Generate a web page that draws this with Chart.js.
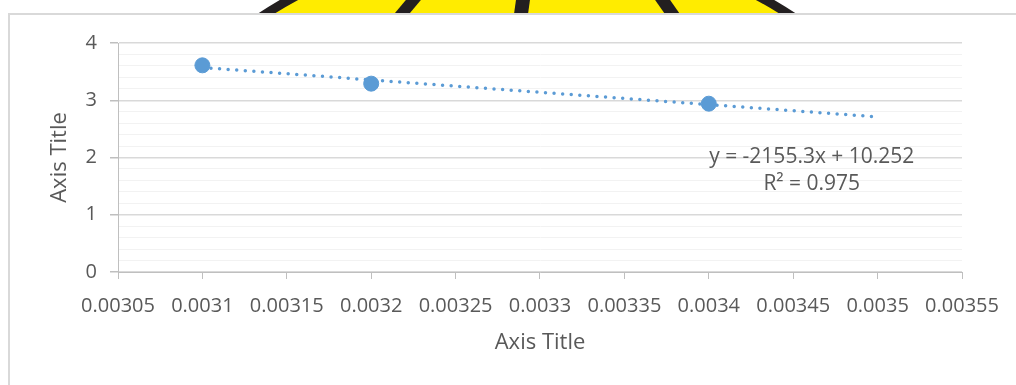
<!DOCTYPE html>
<html>
<head>
<meta charset="utf-8">
<script src="https://cdn.jsdelivr.net/npm/chart.js@4"></script>
<style>
    body { margin: 0; background: #fff; width: 1016px; height: 385px; overflow: hidden; position: relative; }
    #logo { position: absolute; left: 0; top: 0; width: 1016px; height: 14px; overflow: hidden; }
    #logo .disc { position: absolute; left: 38px; top: -67px; width: 978px; height: 978px; border-radius: 50%;
        background: #ffec00; border: 9px solid #231f20; box-sizing: border-box; }
    #logo .stroke { position: absolute; top: -2px; height: 18px; background: #231f20; }
    #frame { position: absolute; left: 8px; top: 13px; width: 1100px; height: 500px;
        border-left: 2px solid #d9d9d9; border-top: 2px solid #d9d9d9; background: #fff; }
    #wrap { position: absolute; left: 0; top: 0; width: 1016px; height: 385px; }
</style>
</head>
<body>
<div id="logo">
    <div class="disc"></div>
    <div class="stroke" style="left:400px;width:15px;transform:skewX(-40deg)"></div>
    <div class="stroke" style="left:515px;width:14px;transform:skewX(-8deg)"></div>
    <div class="stroke" style="left:660px;width:15px;transform:skewX(35deg)"></div>
</div>
<div id="frame"></div>
<div id="wrap"><canvas id="chart" width="1016" height="385"></canvas></div>
<script>
const xValues = [0.0031, 0.0032, 0.0034];
const yValues = [3.61, 3.29, 2.94];
const trendX = [0.0031, 0.0035];
const trendY = [3.57, 2.71];
const xTicks = [0.00305, 0.0031, 0.00315, 0.0032, 0.00325, 0.0033, 0.00335, 0.0034, 0.00345, 0.0035, 0.00355];
const yMajorTicks = [0, 1, 2, 3, 4];
const equationLines = ['y = -2155.3x + 10.252', 'R² = 0.975'];

const textColor = '#595959';
const fontFamily = "'Open Sans', sans-serif";

function isMajor(v) {
    return yMajorTicks.some(t => Math.abs(t - v) < 1e-9);
}

// trendline label, placed in data coordinates
const equationLabel = {
    id: 'equationLabel',
    afterDatasetsDraw(chart) {
        const { ctx, scales } = chart;
        const cx = scales.x.getPixelForValue(0.003461);
        const cy = scales.y.getPixelForValue(2.01);
        ctx.save();
        ctx.fillStyle = textColor;
        ctx.font = "21px 'Open Sans', sans-serif";
        ctx.textAlign = 'center';
        ctx.textBaseline = 'middle';
        ctx.fillText(equationLines[0], cx, cy);
        ctx.fillText(equationLines[1], cx, cy + 27);
        ctx.restore();
    }
};

new Chart(document.getElementById('chart'), {
    type: 'scatter',
    data: {
        datasets: [{
            label: 'Series1',
            data: xValues.map((x, i) => ({ x: x, y: yValues[i] })),
            backgroundColor: '#5b9bd5',
            borderColor: '#5b9bd5',
            pointRadius: 7.5,
            pointHoverRadius: 7.5,
            order: 1
        }, {
            label: 'Trend',
            type: 'line',
            data: trendX.map((x, i) => ({ x: x, y: trendY[i] })),
            borderColor: '#5b9bd5',
            borderWidth: 3.5,
            borderDash: [0, 8.6],
            borderCapStyle: 'round',
            pointRadius: 0,
            fill: false,
            order: 2
        }]
    },
    options: {
        responsive: false,
        animation: false,
        layout: { padding: { left: 0, top: 43, right: 54, bottom: 29 } },
        plugins: {
            legend: { display: false },
            tooltip: { enabled: false }
        },
        scales: {
            x: {
                type: 'linear',
                min: 0.00305,
                max: 0.00355,
                afterBuildTicks: scale => { scale.ticks = xTicks.map(v => ({ value: v })); },
                afterFit: scale => { scale.height = 84; },
                ticks: {
                    color: textColor,
                    font: { family: fontFamily, size: 20 },
                    padding: 15,
                    maxRotation: 0,
                    autoSkip: false,
                    callback: v => String(Number(v.toFixed(5)))
                },
                grid: {
                    drawOnChartArea: false,
                    drawTicks: true,
                    tickLength: 7,
                    tickColor: '#bfbfbf'
                },
                border: { color: '#bfbfbf', width: 1 },
                title: {
                    display: true,
                    text: 'Axis Title',
                    color: textColor,
                    font: { family: fontFamily, size: 22 },
                    padding: { top: 0, bottom: 0 }
                }
            },
            y: {
                min: 0,
                max: 4,
                afterFit: scale => { scale.width = 118; },
                ticks: {
                    stepSize: 0.2,
                    autoSkip: false,
                    color: textColor,
                    font: { family: fontFamily, size: 20 },
                    padding: 13,
                    callback: v => isMajor(v) ? String(Math.round(v)) : ''
                },
                grid: {
                    color: c => isMajor(c.tick.value) ? '#d9d9d9' : '#f2f2f2',
                    lineWidth: c => isMajor(c.tick.value) ? 1.5 : 1,
                    tickLength: 8,
                    tickColor: c => isMajor(c.tick.value) ? '#bfbfbf' : 'rgba(0,0,0,0)'
                },
                border: { color: '#bfbfbf', width: 1 },
                title: {
                    display: true,
                    text: 'Axis Title',
                    color: textColor,
                    font: { family: fontFamily, size: 22 },
                    padding: { top: 47, bottom: 0 }
                }
            }
        }
    },
    plugins: [equationLabel]
});
</script>
</body>
</html>
